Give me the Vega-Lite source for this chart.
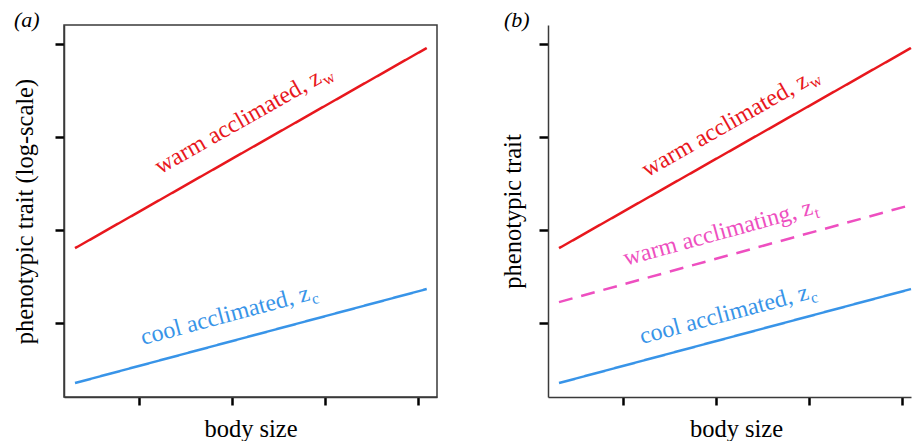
{
  "$schema": "https://vega.github.io/schema/vega-lite/v6.json",
  "padding": {"left": 12, "top": 8, "right": 0, "bottom": 0},
  "background": "white",
  "datasets": {
    "lines": [
      {"panel": "a", "series": "warm acclimated", "x": 0.318, "y": 1.80},
      {"panel": "a", "series": "warm acclimated", "x": 4.09, "y": 3.953},
      {"panel": "a", "series": "cool acclimated", "x": 0.318, "y": 0.35},
      {"panel": "a", "series": "cool acclimated", "x": 4.09, "y": 1.361},
      {"panel": "b", "series": "warm acclimated", "x": 0.318, "y": 1.80},
      {"panel": "b", "series": "warm acclimated", "x": 4.093, "y": 3.953},
      {"panel": "b", "series": "warm acclimating", "x": 0.318, "y": 1.22},
      {"panel": "b", "series": "warm acclimating", "x": 4.093, "y": 2.265},
      {"panel": "b", "series": "cool acclimated", "x": 0.318, "y": 0.35},
      {"panel": "b", "series": "cool acclimated", "x": 4.093, "y": 1.361}
    ],
    "labels": [
      {"panel": "a", "series": "warm acclimated", "x": 2.977, "y": 3.587, "label": "warm acclimated, z", "sub": "w"},
      {"panel": "a", "series": "cool acclimated", "x": 2.849, "y": 1.243, "label": "cool acclimated, z", "sub": "c"},
      {"panel": "b", "series": "warm acclimated", "x": 3.01, "y": 3.555, "label": "warm acclimated, z", "sub": "w"},
      {"panel": "b", "series": "warm acclimating", "x": 3.053, "y": 2.168, "label": "warm acclimating, z", "sub": "t"},
      {"panel": "b", "series": "cool acclimated", "x": 3.01, "y": 1.254, "label": "cool acclimated, z", "sub": "c"}
    ]
  },
  "config": {
    "font": "Liberation Serif",
    "axis": {
      "grid": false,
      "labels": false,
      "domainColor": "#3a3a3a",
      "domainWidth": 1.5,
      "tickColor": "#000000",
      "tickWidth": 2.5,
      "tickCap": "butt",
      "titleFont": "Liberation Serif",
      "titleFontSize": 24.5,
      "titleFontWeight": "normal",
      "titleColor": "#000000"
    },
    "title": {"font": "Liberation Serif", "fontSize": 22, "fontStyle": "italic", "fontWeight": "normal", "color": "#000000"}
  },
  "spacing": 62,
  "hconcat": [
    {
      "width": 373,
      "height": 372,
      "view": {"stroke": "#3a3a3a", "strokeWidth": 1.5},
      "title": {"text": "(a)", "anchor": "start", "frame": "group", "dx": -50, "baseline": "bottom", "offset": -29, "fontSize": 22, "fontStyle": "italic", "font": "Liberation Serif"},
      "layer": [
        {
          "data": {"name": "lines"},
          "transform": [{"filter": "datum.panel === 'a'"}],
          "mark": {"type": "line", "strokeWidth": 2.5, "strokeCap": "butt"},
          "encoding": {
            "x": {"field": "x", "type": "quantitative", "scale": {"domain": [0.2, 4.2], "nice": false, "zero": false},
                  "axis": {"title": "body size", "values": [1, 2, 3, 4], "tickSize": 8, "titlePadding": 11}},
            "y": {"field": "y", "type": "quantitative", "scale": {"domain": [0.2, 4.2], "nice": false, "zero": false},
                  "axis": {"title": "phenotypic trait (log-scale)", "values": [1, 2, 3, 4], "tickSize": 9, "titlePadding": 16}},
            "color": {"field": "series", "type": "nominal", "legend": null,
                      "scale": {"domain": ["warm acclimated", "warm acclimating", "cool acclimated"], "range": ["#e8171d", "#ee4fc0", "#3894e8"]}},
            "strokeDash": {"field": "series", "type": "nominal", "legend": null,
                      "scale": {"domain": ["warm acclimated", "warm acclimating", "cool acclimated"], "range": [[1, 0], [14, 9], [1, 0]]}}
          }
        },
        {
          "data": {"name": "labels"},
          "transform": [{"filter": "datum.panel === 'a'"}],
          "mark": {"type": "text", "align": "right", "baseline": "alphabetic", "font": "Liberation Serif", "fontSize": 24,
                   "angle": {"expr": "datum.series === 'warm acclimated' ? -29.6 : datum.series === 'warm acclimating' ? -15.4 : -15"}},
          "encoding": {
            "x": {"field": "x", "type": "quantitative"},
            "y": {"field": "y", "type": "quantitative"},
            "text": {"field": "label"},
            "color": {"field": "series", "type": "nominal", "legend": null}
          }
        },
        {
          "data": {"name": "labels"},
          "transform": [{"filter": "datum.panel === 'a'"}],
          "mark": {"type": "text", "align": "left", "baseline": "alphabetic", "font": "Liberation Serif", "fontSize": 16, "dx": 1, "dy": 5,
                   "angle": {"expr": "datum.series === 'warm acclimated' ? -29.6 : datum.series === 'warm acclimating' ? -15.4 : -15"}},
          "encoding": {
            "x": {"field": "x", "type": "quantitative"},
            "y": {"field": "y", "type": "quantitative"},
            "text": {"field": "sub"},
            "color": {"field": "series", "type": "nominal", "legend": null}
          }
        }
      ]
    },
    {
      "width": 363,
      "height": 372,
      "view": {"stroke": null},
      "title": {"text": "(b)", "anchor": "start", "frame": "group", "dx": -44, "baseline": "bottom", "offset": -29, "fontSize": 22, "fontStyle": "italic", "font": "Liberation Serif"},
      "layer": [
        {
          "data": {"name": "lines"},
          "transform": [{"filter": "datum.panel === 'b'"}],
          "mark": {"type": "line", "strokeWidth": 2.5, "strokeCap": "butt"},
          "encoding": {
            "x": {"field": "x", "type": "quantitative", "scale": {"domain": [0.2, 4.093], "nice": false, "zero": false},
                  "axis": {"title": "body size", "values": [1, 2, 3, 4], "tickSize": 8, "titlePadding": 11, "titleX": 188}},
            "y": {"field": "y", "type": "quantitative", "scale": {"domain": [0.2, 4.2], "nice": false, "zero": false},
                  "axis": {"title": "phenotypic trait", "values": [1, 2, 3, 4], "tickSize": 9, "titlePadding": 12.5}},
            "color": {"field": "series", "type": "nominal", "legend": null,
                      "scale": {"domain": ["warm acclimated", "warm acclimating", "cool acclimated"], "range": ["#e8171d", "#ee4fc0", "#3894e8"]}},
            "strokeDash": {"field": "series", "type": "nominal", "legend": null,
                      "scale": {"domain": ["warm acclimated", "warm acclimating", "cool acclimated"], "range": [[1, 0], [14, 9], [1, 0]]}}
          }
        },
        {
          "mark": {"type": "rule", "stroke": "#3a3a3a", "strokeWidth": 1.5},
          "encoding": {
            "y": {"datum": 4.2, "type": "quantitative"},
            "x": {"datum": 0.2, "type": "quantitative"},
            "x2": {"datum": 4.093}
          }
        },
        {
          "data": {"name": "labels"},
          "transform": [{"filter": "datum.panel === 'b'"}],
          "mark": {"type": "text", "align": "right", "baseline": "alphabetic", "font": "Liberation Serif", "fontSize": 24,
                   "angle": {"expr": "datum.series === 'warm acclimated' ? -29.6 : datum.series === 'warm acclimating' ? -15.4 : -15"}},
          "encoding": {
            "x": {"field": "x", "type": "quantitative"},
            "y": {"field": "y", "type": "quantitative"},
            "text": {"field": "label"},
            "color": {"field": "series", "type": "nominal", "legend": null}
          }
        },
        {
          "data": {"name": "labels"},
          "transform": [{"filter": "datum.panel === 'b'"}],
          "mark": {"type": "text", "align": "left", "baseline": "alphabetic", "font": "Liberation Serif", "fontSize": 16, "dx": 1, "dy": 5,
                   "angle": {"expr": "datum.series === 'warm acclimated' ? -29.6 : datum.series === 'warm acclimating' ? -15.4 : -15"}},
          "encoding": {
            "x": {"field": "x", "type": "quantitative"},
            "y": {"field": "y", "type": "quantitative"},
            "text": {"field": "sub"},
            "color": {"field": "series", "type": "nominal", "legend": null}
          }
        }
      ]
    }
  ]
}
